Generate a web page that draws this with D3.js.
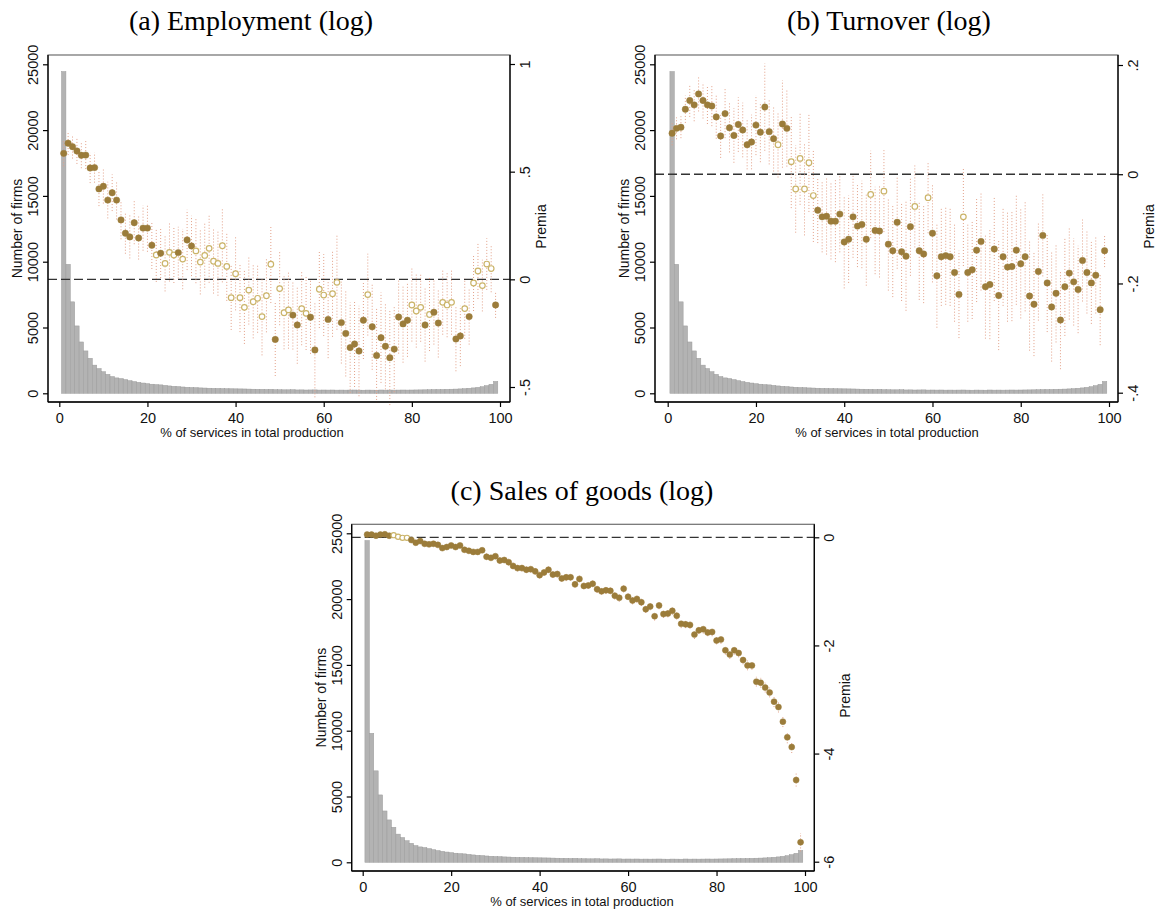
<!DOCTYPE html>
<html>
<head>
<meta charset="utf-8">
<script src="https://cdn.jsdelivr.net/npm/d3@7"></script>
<style>
body { margin: 0; background: #fff; }
</style>
</head>
<body>
<script>
// bins: % of services in total production (1..99)
var bins = [1,2,3,4,5,6,7,8,9,10,11,12,13,14,15,16,17,18,19,20,21,22,23,24,25,26,27,28,29,30,
  31,32,33,34,35,36,37,38,39,40,41,42,43,44,45,46,47,48,49,50,51,52,53,54,55,56,57,58,59,60,
  61,62,63,64,65,66,67,68,69,70,71,72,73,74,75,76,77,78,79,80,81,82,83,84,85,86,87,88,89,90,
  91,92,93,94,95,96,97,98,99];

var firmCounts = [24450,9800,6950,5120,3900,3220,2660,2140,1880,1640,
  1440,1270,1170,1120,1040,960,890,830,780,730,
  690,660,640,600,560,530,510,480,460,440,
  430,410,400,385,375,370,360,350,345,340,
  335,330,320,310,305,300,290,300,275,270,
  265,265,270,255,260,250,255,260,245,250,
  245,250,240,245,240,245,250,240,235,245,
  240,235,250,240,245,240,245,250,245,250,
  255,260,265,270,280,285,290,300,310,320,
  335,350,380,410,450,500,580,680,900];

var empPremia = [.585,.632,.616,.596,.576,.577,.517,.519,.42,.432,
  .368,.402,.368,.276,.214,.197,.263,.192,.238,.238,
  .158,.113,.121,.074,.125,.113,.124,.094,.183,.155,
  .132,.08,.111,.144,.084,.074,.156,.06,-.085,.026,
  -.085,-.13,-.05,-.104,-.088,-.173,-.076,.07,-.279,-.043,
  -.155,-.142,-.166,-.212,-.136,-.158,-.176,-.328,-.046,-.073,
  -.186,-.067,-.014,-.201,-.251,-.317,-.3,-.333,-.19,-.071,
  -.22,-.354,-.271,-.311,-.364,-.324,-.175,-.207,-.19,-.119,
  -.147,-.13,-.212,-.163,-.153,-.203,-.107,-.119,-.107,-.277,
  -.263,-.136,-.173,-.017,.039,-.029,.071,.05,-.119];
var empHalfCI = [.06,.055,.055,.06,.06,.065,.07,.07,.08,.08,
  .085,.085,.09,.09,.095,.1,.1,.1,.105,.11,
  .11,.125,.115,.13,.135,.13,.12,.14,.14,.14,
  .15,.15,.15,.16,.15,.15,.17,.16,.15,.17,
  .16,.17,.16,.17,.16,.18,.17,.18,.17,.17,
  .17,.18,.16,.18,.17,.17,.17,.22,.18,.19,
  .18,.2,.22,.19,.2,.21,.2,.21,.18,.19,
  .2,.22,.21,.2,.22,.2,.17,.18,.17,.17,
  .17,.16,.17,.17,.15,.16,.15,.15,.15,.15,
  .14,.14,.13,.13,.13,.12,.12,.11,.06];
var empSig = [1,1,1,1,1,1,1,1,1,1, 1,1,1,1,1,1,1,1,1,1,
  1,0,1,0,0,0,1,0,1,1, 0,0,0,0,0,0,0,0,0,0,
  0,0,0,0,0,0,0,0,1,0, 0,0,1,1,0,0,1,1,0,0,
  1,0,0,1,1,1,1,1,1,0, 1,1,1,1,1,1,1,1,1,0,
  0,0,1,0,1,1,0,0,0,1, 1,0,1,0,0,0,0,0,1];

var turnPremia = [.075,.084,.086,.119,.135,.127,.147,.135,.127,.125,
  .105,.07,.111,.085,.071,.091,.081,.054,.059,.09,
  .077,.123,.078,.065,.054,.092,.084,.023,-.027,.029,
  -.027,.021,-.039,-.066,-.078,-.077,-.086,-.086,-.073,-.124,
  -.119,-.078,-.095,-.092,-.119,-.037,-.103,-.104,-.031,-.128,
  -.14,-.088,-.142,-.15,-.096,-.059,-.14,-.146,-.043,-.108,
  -.186,-.151,-.149,-.151,-.18,-.22,-.078,-.18,-.175,-.139,
  -.123,-.206,-.202,-.137,-.222,-.151,-.17,-.169,-.139,-.164,
  -.151,-.223,-.238,-.178,-.112,-.199,-.243,-.218,-.267,-.206,
  -.181,-.197,-.211,-.158,-.18,-.199,-.185,-.248,-.14];
var turnHalfCI = [.022,.02,.02,.025,.03,.03,.032,.033,.035,.037,
  .04,.04,.045,.045,.05,.05,.05,.045,.05,.055,
  .055,.08,.06,.06,.06,.08,.07,.085,.08,.085,
  .085,.09,.085,.06,.065,.07,.07,.075,.07,.085,
  .08,.075,.075,.08,.085,.08,.08,.085,.075,.085,
  .085,.085,.09,.1,.09,.075,.09,.09,.065,.09,
  .095,.09,.09,.09,.09,.08,.09,.09,.09,.095,
  .09,.095,.1,.095,.1,.09,.1,.1,.1,.1,
  .1,.1,.095,.09,.075,.09,.1,.09,.09,.09,
  .085,.08,.08,.075,.075,.075,.07,.065,.03];
var turnSig = [1,1,1,1,1,1,1,1,1,1, 1,1,1,1,1,1,1,1,1,1,
  1,1,1,1,0,1,1,0,0,0, 0,0,0,1,1,1,1,1,1,1,
  1,1,1,1,1,0,1,1,0,1, 1,1,1,1,1,0,1,1,0,1,
  1,1,1,1,1,1,0,1,1,1, 1,1,1,1,1,1,1,1,1,1,
  1,1,1,1,1,1,1,1,1,1, 1,1,1,1,1,1,1,1,1];

var salesPremia = [.05,.05,.03,.05,.055,.03,.04,.01,-.01,-.01,
  -.05,-.1,-.07,-.12,-.13,-.12,-.14,-.2,-.18,-.15,
  -.18,-.15,-.23,-.25,-.27,-.27,-.24,-.36,-.38,-.35,
  -.43,-.42,-.46,-.53,-.57,-.57,-.6,-.59,-.63,-.7,
  -.65,-.6,-.69,-.68,-.76,-.74,-.74,-.87,-.77,-.9,
  -.89,-.86,-.96,-1.0,-.98,-.99,-1.08,-1.12,-.95,-1.1,
  -1.17,-1.14,-1.2,-1.33,-1.28,-1.46,-1.26,-1.42,-1.41,-1.36,
  -1.45,-1.6,-1.61,-1.62,-1.8,-1.72,-1.7,-1.76,-1.75,-1.91,
  -1.89,-2.09,-2.17,-2.09,-2.14,-2.27,-2.37,-2.37,-2.67,-2.69,
  -2.78,-2.87,-3.04,-3.14,-3.41,-3.7,-3.88,-4.49,-5.64];
var salesHalfCI = [.04,.04,.04,.04,.04,.04,.05,.05,.05,.05,
  .04,.04,.04,.05,.05,.05,.05,.05,.05,.05,
  .05,.05,.05,.05,.05,.05,.05,.06,.05,.05,
  .06,.05,.06,.06,.06,.06,.06,.06,.06,.06,
  .06,.06,.06,.06,.06,.07,.06,.06,.06,.06,
  .06,.06,.07,.06,.07,.06,.07,.07,.07,.06,
  .07,.07,.07,.07,.07,.08,.07,.07,.07,.07,
  .07,.08,.07,.07,.08,.07,.08,.07,.08,.07,
  .08,.08,.08,.08,.08,.08,.09,.08,.09,.09,
  .09,.09,.1,.1,.1,.11,.11,.12,.17];
var salesSig = [1,1,1,1,1,1,0,0,0,0, 1,1,1,1,1,1,1,1,1,1,
  1,1,1,1,1,1,1,1,1,1, 1,1,1,1,1,1,1,1,1,1,
  1,1,1,1,1,1,1,1,1,1, 1,1,1,1,1,1,1,1,1,1,
  1,1,1,1,1,1,1,1,1,1, 1,1,1,1,1,1,1,1,1,1,
  1,1,1,1,1,1,1,1,1,1, 1,1,1,1,1,1,1,1,1];

var xTicks = [0,20,40,60,80,100];
var countTicks = [0,5000,10000,15000,20000,25000];
var empTicks = [-0.5,0,0.5,1];
var turnTicks = [-0.4,-0.2,0,0.2];
var salesTicks = [-6,-4,-2,0];

var W = 1159, H = 914;
var sans = "'Liberation Sans', Arial, Helvetica, sans-serif";
var serif = "'Liberation Serif', 'Times New Roman', serif";

var svg = d3.select("body").append("svg")
  .attr("width", W).attr("height", H);

// stata-ish number labels: .5, -.5, 0
function stataFmt(v) {
  return String(+v.toFixed(2)).replace(/^(-?)0\./, "$1.");
}

var panels = [
  {title: "(a) Employment (log)", premia: empPremia, half: empHalfCI, sig: empSig, rTicks: empTicks,
   left: 48, right: 510, top: 55, bottom: 402, x0: 59.3, x100: 500,
   cTop: 64.3, cBot: 393.3, rDom: [-0.5, 1], rRange: [387, 64],
   titleX: 251, titleY: 30, xLabX: 252, r: 3.2},
  {title: "(b) Turnover (log)", premia: turnPremia, half: turnHalfCI, sig: turnSig, rTicks: turnTicks,
   left: 655, right: 1118, top: 55, bottom: 402, x0: 667.7, x100: 1109,
   cTop: 64.3, cBot: 393.3, rDom: [-0.4, 0.2], rRange: [392.7, 65],
   titleX: 889, titleY: 30, xLabX: 887, r: 3.2},
  {title: "(c) Sales of goods (log)", premia: salesPremia, half: salesHalfCI, sig: salesSig, rTicks: salesTicks,
   left: 351.7, right: 814.3, top: 524.3, bottom: 871, x0: 362.7, x100: 805,
   cTop: 533.3, cBot: 862.3, rDom: [-6, 0], rRange: [861.7, 537.3],
   titleX: 582, titleY: 500, xLabX: 582, r: 3.0}
];

panels.forEach(function(p) {
  var x = d3.scaleLinear().domain([0, 100]).range([p.x0, p.x100]);
  var yC = d3.scaleLinear().domain([0, 25000]).range([p.cBot, p.cTop]);
  var yR = d3.scaleLinear().domain(p.rDom).range(p.rRange);
  var g = svg.append("g");
  var midY = (p.top + p.bottom) / 2;

  // title
  g.append("text")
    .attr("x", p.titleX).attr("y", p.titleY)
    .attr("text-anchor", "middle")
    .style("font-family", serif).style("font-size", "28px")
    .text(p.title);

  // frame
  g.append("rect")
    .attr("x", p.left).attr("y", p.top)
    .attr("width", p.right - p.left).attr("height", p.bottom - p.top)
    .attr("fill", "none").attr("stroke", "#6e6e6e").attr("stroke-width", 1.2);

  // histogram of firms
  g.append("g").selectAll("rect")
    .data(firmCounts)
    .enter()
    .append("rect")
    .attr("x", function(d, i) { return x(bins[i] - 0.5); })
    .attr("width", function(d, i) { return x(bins[i] + 0.5) - x(bins[i] - 0.5); })
    .attr("y", function(d) { return yC(d); })
    .attr("height", function(d) { return yC(0) - yC(d); })
    .attr("fill", "#b3b3b3")
    .attr("stroke", "#9c9c9c")
    .attr("stroke-width", 0.5);

  // zero line
  g.append("line")
    .attr("x1", p.left).attr("x2", p.right)
    .attr("y1", yR(0)).attr("y2", yR(0))
    .attr("stroke", "#333").attr("stroke-width", 1.3)
    .attr("stroke-dasharray", "9,4");

  // confidence intervals (dotted)
  g.append("g").selectAll("line")
    .data(p.premia)
    .enter()
    .append("line")
    .attr("x1", function(d, i) { return x(bins[i]); })
    .attr("x2", function(d, i) { return x(bins[i]); })
    .attr("y1", function(d, i) { return yR(d - p.half[i]); })
    .attr("y2", function(d, i) { return yR(d + p.half[i]); })
    .attr("stroke", "#e2a088")
    .attr("stroke-width", 1)
    .attr("stroke-dasharray", "1,2");

  // point estimates: filled if significant, hollow otherwise
  g.append("g").selectAll("circle")
    .data(p.premia)
    .enter()
    .append("circle")
    .attr("cx", function(d, i) { return x(bins[i]); })
    .attr("cy", function(d) { return yR(d); })
    .attr("r", function(d, i) { return p.sig[i] ? p.r : p.r - 0.4; })
    .attr("fill", function(d, i) { return p.sig[i] ? "#9b7c3a" : "#fff"; })
    .attr("stroke", function(d, i) { return p.sig[i] ? "#9b7c3a" : "#cbb46a"; })
    .attr("stroke-width", function(d, i) { return p.sig[i] ? 0.5 : 1.2; });

  // left axis: number of firms
  var axL = g.append("g")
    .attr("transform", "translate(" + p.left + ",0)")
    .call(d3.axisLeft(yC).tickValues(countTicks).tickFormat(d3.format("d")).tickSize(5).tickSizeOuter(0));
  axL.selectAll("text")
    .attr("transform", "rotate(-90)")
    .attr("x", 0).attr("y", -10).attr("dy", 0)
    .attr("text-anchor", "middle");

  // right axis: premia
  var axR = g.append("g")
    .attr("transform", "translate(" + p.right + ",0)")
    .call(d3.axisRight(yR).tickValues(p.rTicks).tickFormat(stataFmt).tickSize(5).tickSizeOuter(0));
  axR.selectAll("text")
    .attr("transform", "rotate(-90)")
    .attr("x", 0).attr("y", 20).attr("dy", 0)
    .attr("text-anchor", "middle");

  // bottom axis
  var axB = g.append("g")
    .attr("transform", "translate(0," + p.bottom + ")")
    .call(d3.axisBottom(x).tickValues(xTicks).tickSize(5).tickSizeOuter(0));
  axB.selectAll("text").attr("y", 21).attr("dy", 0);

  [axL, axR, axB].forEach(function(ax) {
    ax.select(".domain").remove();
    ax.attr("font-family", sans).attr("font-size", 14.5);
    ax.selectAll("line").attr("stroke", "#000").attr("stroke-width", 1.2);
    ax.selectAll("text").attr("fill", "#111");
  });

  // axis lines
  g.append("line").attr("x1", p.left).attr("x2", p.left).attr("y1", p.top).attr("y2", p.bottom)
    .attr("stroke", "#000").attr("stroke-width", 1.3);
  g.append("line").attr("x1", p.right).attr("x2", p.right).attr("y1", p.top).attr("y2", p.bottom)
    .attr("stroke", "#000").attr("stroke-width", 1.3);
  g.append("line").attr("x1", p.left).attr("x2", p.right).attr("y1", p.bottom).attr("y2", p.bottom)
    .attr("stroke", "#000").attr("stroke-width", 1.3);

  // axis titles
  g.append("text")
    .attr("transform", "translate(" + (p.left - 26) + "," + midY + ") rotate(-90)")
    .attr("text-anchor", "middle")
    .style("font-family", sans).style("font-size", "14px").attr("fill", "#111")
    .text("Number of firms");
  g.append("text")
    .attr("transform", "translate(" + (p.right + 36) + "," + (midY - 2) + ") rotate(-90)")
    .attr("text-anchor", "middle")
    .style("font-family", sans).style("font-size", "14px").attr("fill", "#111")
    .text("Premia");
  g.append("text")
    .attr("x", p.xLabX).attr("y", p.bottom + 35)
    .attr("text-anchor", "middle")
    .style("font-family", sans).style("font-size", "13px").attr("fill", "#111")
    .text("% of services in total production");
});
</script>
</body>
</html>
